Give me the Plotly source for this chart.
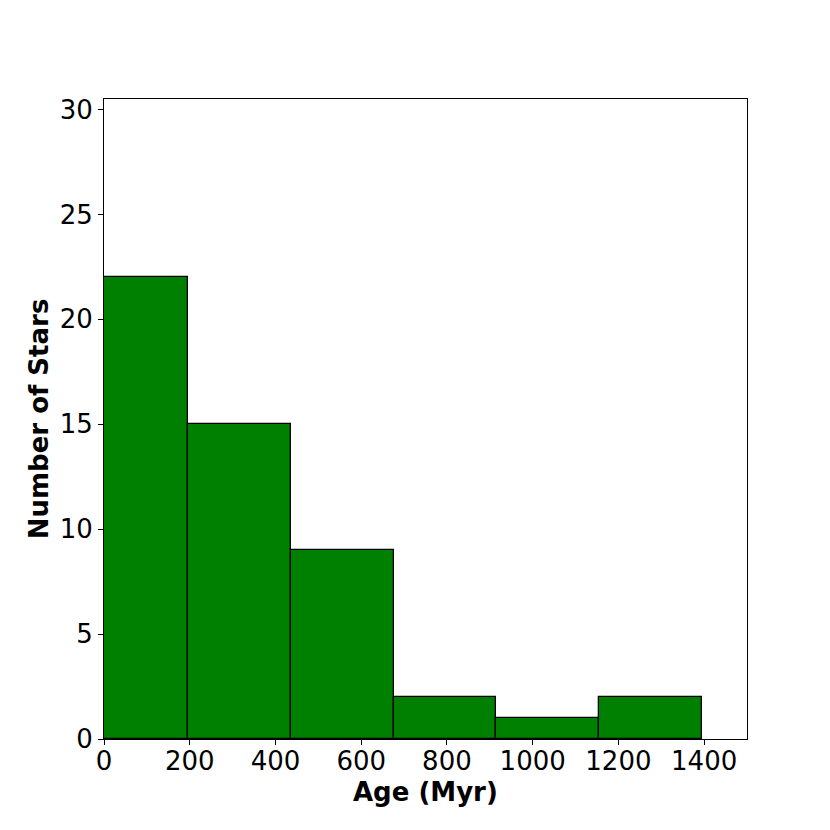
import plotly.graph_objects as go

bin_edges = [-43, 197, 436, 676, 915, 1155, 1395]
counts = [22, 15, 9, 2, 1, 2]
x_ticks = [0, 200, 400, 600, 800, 1000, 1200, 1400]
y_ticks = [0, 5, 10, 15, 20, 25, 30]

centers = [(a + b) / 2 for a, b in zip(bin_edges[:-1], bin_edges[1:])]
widths = [b - a for a, b in zip(bin_edges[:-1], bin_edges[1:])]

fig = go.Figure(go.Bar(
    x=centers, y=counts, width=widths,
    marker=dict(color="#008000", line=dict(color="black", width=1.3)),
))

font = "DejaVu Sans, sans-serif"
fig.update_layout(
    width=830, height=830,
    margin=dict(l=96, r=91, t=91, b=99),
    plot_bgcolor="white", paper_bgcolor="white",
    showlegend=False,
    font=dict(family=font, color="black", size=26),
    xaxis=dict(
        range=[0, 1500], tickvals=x_ticks,
        showline=True, linecolor="black", linewidth=1, mirror=True,
        ticks="outside", ticklen=5, tickcolor="black", showgrid=False, zeroline=False,
        tickfont=dict(size=26), ticklabelstandoff=-6,
    ),
    yaxis=dict(
        range=[0, 30.5], tickvals=y_ticks,
        showline=True, linecolor="black", linewidth=1, mirror=True,
        ticks="outside", ticklen=5, tickcolor="black", showgrid=False, zeroline=False,
        tickfont=dict(size=26),
        title=dict(text="<b>Number of Stars</b>", font=dict(size=26), standoff=3),
    ),
    annotations=[dict(
        text="<b>Age (Myr)</b>", xref="paper", yref="paper", x=0.5, y=0,
        xanchor="center", yanchor="middle", yshift=-53, showarrow=False,
        font=dict(size=26, family=font, color="black"),
    )],
    bargap=0,
)

fig.write_html("out.html")
